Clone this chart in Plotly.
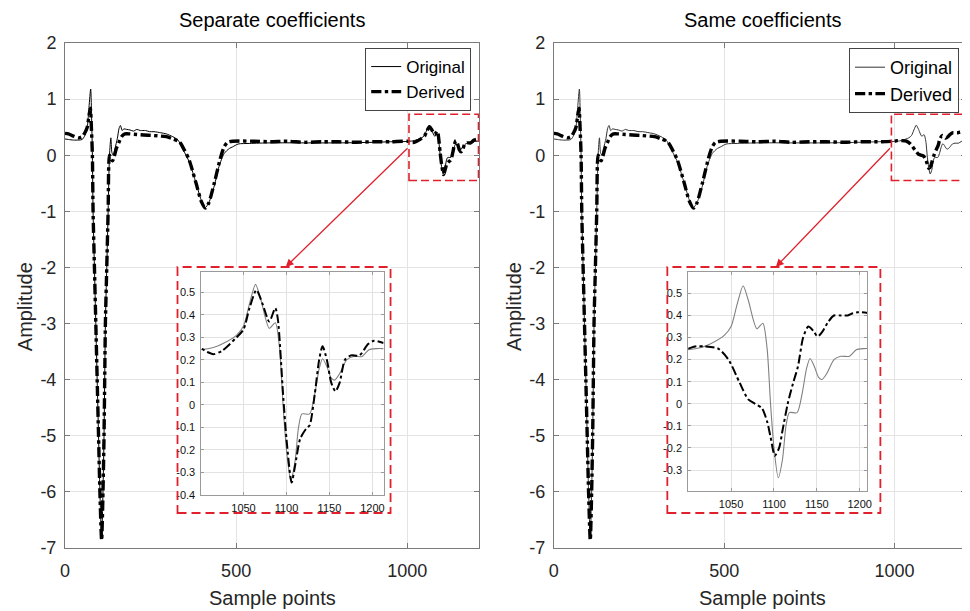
import plotly.graph_objects as go

# ---------------- data ----------------
orig_x = [0, 10, 25, 40, 50, 58, 65, 70, 75, 78, 80, 82, 86, 90, 94, 98, 102, 107,
          111, 114, 116, 118, 122, 126, 130, 134, 137, 141, 146, 153, 158, 162, 167,
          172, 180, 190, 200, 210, 220, 235, 247, 260, 280, 296, 315, 330, 345, 363,
          383, 398, 410, 420, 436, 450, 465, 480, 490, 506, 540, 600, 700, 800, 900,
          950, 1000,
          1015, 1025, 1042, 1050, 1057, 1064, 1070, 1080, 1087, 1092, 1096, 1100, 1105,
          1110, 1114, 1118, 1127, 1133, 1138, 1142, 1147, 1152, 1156, 1162, 1170, 1178,
          1188, 1196, 1205, 1213]
orig_y = [0.29, 0.28, 0.27, 0.27, 0.28, 0.35, 0.5, 0.85, 1.18, 0.6, 0.0, -1.0, -2.0,
          -3.0, -4.0, -5.0, -6.0, -6.82, -6.0, -5.0, -4.0, -3.0, -2.0, -1.0, 0.0, 0.31,
          0.05, 0.0, 0.12, 0.3, 0.48, 0.53, 0.44, 0.47, 0.46, 0.45, 0.43, 0.46, 0.44,
          0.44, 0.42, 0.42, 0.4, 0.38, 0.33, 0.27, 0.1, -0.12, -0.5, -0.8, -0.93, -0.85,
          -0.55, -0.2, 0.03, 0.12, 0.15, 0.2, 0.21, 0.22, 0.22, 0.22, 0.23, 0.24, 0.245,
          0.255, 0.27, 0.31, 0.35, 0.45, 0.535, 0.47, 0.34, 0.365, 0.25, 0.0, -0.2,
          -0.335, -0.25, -0.1, -0.04, -0.04, 0.05, 0.16, 0.205, 0.17, 0.12, 0.11, 0.14,
          0.2, 0.215, 0.215, 0.245, 0.25, 0.25]

# derived signal, common part (0 .. 1000)
deriv_head_x = [0, 10, 25, 40, 50, 58, 65, 70, 74, 77, 80, 82, 86, 90, 94, 98, 102, 107,
                111, 114, 116, 118, 122, 126, 130, 134, 139, 144, 150, 157, 165, 175, 190,
                210, 230, 260, 296, 315, 334, 348, 363, 383, 398, 410, 420, 436, 455, 465,
                475, 490, 550, 600, 650, 700, 750, 800, 850, 900, 950, 1000]
deriv_head_y = [0.39, 0.38, 0.34, 0.31, 0.33, 0.4, 0.5, 0.7, 0.84, 0.5, 0.0, -1.0, -2.0,
                -3.0, -4.0, -5.0, -6.0, -6.86, -6.0, -5.0, -4.0, -3.0, -2.0, -1.0, 0.0,
                -0.05, -0.1, -0.02, 0.12, 0.22, 0.33, 0.38, 0.38, 0.37, 0.36, 0.35, 0.33,
                0.29, 0.24, 0.1, -0.09, -0.5, -0.82, -0.94, -0.85, -0.5, -0.03, 0.15, 0.23,
                0.25, 0.25, 0.24, 0.25, 0.23, 0.24, 0.24, 0.23, 0.24, 0.24, 0.25]

# derived signal, zoomed part, "Separate coefficients"
sep_tail_x = [1008, 1015, 1025, 1042, 1050, 1057, 1065, 1072, 1080, 1087, 1090, 1096,
              1100, 1106, 1110, 1116, 1123, 1127, 1133, 1138, 1142, 1147, 1152, 1157,
              1162, 1168, 1175, 1185, 1195, 1202, 1213]
sep_tail_y = [0.235, 0.225, 0.24, 0.3, 0.335, 0.43, 0.51, 0.45, 0.37, 0.43, 0.38, 0.05,
              -0.15, -0.345, -0.27, -0.15, -0.105, -0.09, 0.05, 0.2, 0.26, 0.2, 0.1, 0.06,
              0.1, 0.2, 0.22, 0.22, 0.27, 0.285, 0.275]

# derived signal, zoomed part, "Same coefficients"
same_tail_x = [1008, 1020, 1035, 1047, 1060, 1070, 1078, 1086, 1092, 1096, 1101, 1106,
               1110, 1116, 1122, 1128, 1134, 1140, 1146, 1151, 1157, 1163, 1170, 1178,
               1186, 1192, 1198, 1213]
same_tail_y = [0.26, 0.26, 0.25, 0.2, 0.095, 0.02, 0.0, -0.02, -0.08, -0.15, -0.235,
               -0.2, -0.12, 0.0, 0.09, 0.17, 0.3, 0.35, 0.33, 0.305, 0.33, 0.37, 0.4,
               0.4, 0.4, 0.41, 0.415, 0.41]

titles = ["Separate coefficients", "Same coefficients"]
series_names = ["Original", "Derived"]
main_yticks = [-7, -6, -5, -4, -3, -2, -1, 0, 1, 2]
main_xticks = [0, 500, 1000]
inset_xticks = [1050, 1100, 1150, 1200]
inset_yticks_sep = [-0.4, -0.3, -0.2, -0.1, 0, 0.1, 0.2, 0.3, 0.4, 0.5]
inset_yticks_same = [-0.3, -0.2, -0.1, 0, 0.1, 0.2, 0.3, 0.4, 0.5]

sep_x = deriv_head_x + sep_tail_x
sep_y = deriv_head_y + sep_tail_y
same_x = deriv_head_x + same_tail_x
same_y = deriv_head_y + same_tail_y


def fmt(v):
    return "%g" % v


# ---------------- layout geometry ----------------
# The page body has an 8 px margin, so the figure is offset by 8 px.
OFF = 8
SCR_L, SCR_T, SCR_B, SCR_R = 65, 43, 548, 970   # plot area in screen pixels
W, H = 970 - OFF, 611 - OFF
ML, MT = SCR_L - OFF, SCR_T - OFF
MB = H - (SCR_B - OFF)
MR = W - (SCR_R - OFF)
PW, PH = W - ML - MR, H - MT - MB


def px(xp):  # screen px -> paper x
    return (xp - SCR_L) / PW


def py(yp):  # screen px -> paper y
    return (SCR_B - yp) / PH


RED = "#e0202c"
GRID = "#e4e4e4"
AX = "#7a7a7a"
TXT = "#262626"
FONT = "Liberation Sans, Arial, sans-serif"
SM = 0.7

fig = go.Figure()

fig.add_trace(go.Scatter(x=orig_x, y=orig_y, name=series_names[0], mode="lines",
                         line=dict(color="black", width=1, shape="spline", smoothing=SM),
                         xaxis="x", yaxis="y", legend="legend"))
fig.add_trace(go.Scatter(x=sep_x, y=sep_y, name=series_names[1], mode="lines",
                         line=dict(color="black", width=3.4, dash="dashdot",
                                   shape="spline", smoothing=SM),
                         xaxis="x", yaxis="y", legend="legend"))
fig.add_trace(go.Scatter(x=orig_x, y=orig_y, name=series_names[0], mode="lines",
                         line=dict(color="#333333", width=1, shape="spline", smoothing=SM),
                         xaxis="x2", yaxis="y2", legend="legend2"))
fig.add_trace(go.Scatter(x=same_x, y=same_y, name=series_names[1], mode="lines",
                         line=dict(color="black", width=3.4, dash="dashdot",
                                   shape="spline", smoothing=SM),
                         xaxis="x2", yaxis="y2", legend="legend2"))
# white covers behind insets
fig.add_trace(go.Scatter(x=[], y=[], xaxis="x3", yaxis="y3", showlegend=False))
fig.add_trace(go.Scatter(x=[], y=[], xaxis="x4", yaxis="y4", showlegend=False))
# insets
fig.add_trace(go.Scatter(x=orig_x, y=orig_y, mode="lines", showlegend=False,
                         line=dict(color="#808080", width=1.1, shape="spline", smoothing=SM),
                         xaxis="x5", yaxis="y5"))
fig.add_trace(go.Scatter(x=sep_x, y=sep_y, mode="lines", showlegend=False,
                         line=dict(color="black", width=2, dash="dashdot",
                                   shape="spline", smoothing=SM),
                         xaxis="x5", yaxis="y5"))
fig.add_trace(go.Scatter(x=orig_x, y=orig_y, mode="lines", showlegend=False,
                         line=dict(color="#808080", width=1.1, shape="spline", smoothing=SM),
                         xaxis="x6", yaxis="y6"))
fig.add_trace(go.Scatter(x=same_x, y=same_y, mode="lines", showlegend=False,
                         line=dict(color="black", width=2, dash="dashdot",
                                   shape="spline", smoothing=SM),
                         xaxis="x6", yaxis="y6"))

main_common = dict(showline=True, linecolor=AX, linewidth=1, mirror="ticks",
                   ticks="inside", ticklen=5, tickcolor=AX, showgrid=True,
                   gridcolor=GRID, gridwidth=1, zeroline=False,
                   tickfont=dict(family=FONT, size=18, color=TXT))

dom_left = [0, px(481)]
dom_right = [px(556), 1.0]
ydom = [0, 1]

fig.update_layout(
    xaxis=dict(domain=dom_left, range=[0, 1210], anchor="y", tickvals=main_xticks,
               ticktext=[fmt(v) for v in main_xticks], ticklabelstandoff=6, **main_common),
    yaxis=dict(domain=ydom, range=[-7, 2], anchor="x", tickvals=main_yticks,
               ticktext=[fmt(v) for v in main_yticks], ticklabelstandoff=4, **main_common),
    xaxis2=dict(domain=dom_right, range=[0, 1210], anchor="y2", tickvals=main_xticks,
                ticktext=[fmt(v) for v in main_xticks], ticklabelstandoff=6, **main_common),
    yaxis2=dict(domain=ydom, range=[-7, 2], anchor="x2", tickvals=main_yticks,
                ticktext=[fmt(v) for v in main_yticks], ticklabelstandoff=4, **main_common),
)

cover_l = [px(178), px(392)]
cover_r = [px(670), px(884)]
cover_y = [py(513), py(267)]
for i, d in [(3, cover_l), (4, cover_r)]:
    fig.update_layout(**{
        f"xaxis{i}": dict(domain=d, anchor=f"y{i}", visible=False, range=[0, 1]),
        f"yaxis{i}": dict(domain=cover_y, anchor=f"x{i}", visible=False, range=[0, 1]),
    })

inset_common = dict(showline=True, linecolor="#9a9a9a", linewidth=1, mirror="ticks",
                    ticks="inside", ticklen=3, tickcolor="#9a9a9a", showgrid=True,
                    gridcolor="#e2e2e2", gridwidth=1, zeroline=False,
                    tickfont=dict(family=FONT, size=11, color="#111111"))

fig.update_layout(
    xaxis5=dict(domain=[px(202), px(385)], anchor="y5", range=[1001, 1213],
                tickvals=inset_xticks, ticktext=[fmt(v) for v in inset_xticks],
                ticklabelstandoff=3, **inset_common),
    yaxis5=dict(domain=[py(495), py(272)], anchor="x5", range=[-0.4, 0.59],
                tickvals=inset_yticks_sep, ticktext=[fmt(v) for v in inset_yticks_sep],
                ticklabelstandoff=3, **inset_common),
    xaxis6=dict(domain=[px(691), px(871)], anchor="y6", range=[1000, 1209],
                tickvals=inset_xticks, ticktext=[fmt(v) for v in inset_xticks],
                ticklabelstandoff=3, **inset_common),
    yaxis6=dict(domain=[py(491), py(272)], anchor="x6", range=[-0.395, 0.597],
                tickvals=inset_yticks_same, ticktext=[fmt(v) for v in inset_yticks_same],
                ticklabelstandoff=3, **inset_common),
)

fig.add_shape(type="rect", xref="x", yref="y", x0=1005, x1=1208, y0=-0.45, y1=0.73,
              line=dict(color=RED, width=1.6, dash="8px,4px"), layer="above")
fig.add_shape(type="rect", xref="x2", yref="y2", x0=991, x1=1209, y0=-0.45, y1=0.73,
              line=dict(color=RED, width=1.6, dash="8px,4px"), layer="above")
for d in (cover_l, cover_r):
    fig.add_shape(type="rect", xref="paper", yref="paper", x0=d[0], x1=d[1],
                  y0=cover_y[0], y1=cover_y[1],
                  line=dict(color=RED, width=1.8, dash="9px,5px"), layer="above")

fig.add_annotation(x=645, y=-1.99, xref="x", yref="y", ax=1005, ay=0.15, axref="x",
                   ayref="y", showarrow=True, arrowhead=2, arrowsize=1.2, arrowwidth=1.3,
                   arrowcolor=RED, text="")
fig.add_annotation(x=652, y=-1.99, xref="x2", yref="y2", ax=991, ay=0.15, axref="x2",
                   ayref="y2", showarrow=True, arrowhead=2, arrowsize=1.2, arrowwidth=1.3,
                   arrowcolor=RED, text="")

for t, xc in zip(titles, [px(273), px(766)]):
    fig.add_annotation(text=t, x=xc, y=py(20), xref="paper", yref="paper",
                       showarrow=False, font=dict(family=FONT, size=20, color="black"),
                       xanchor="center", yanchor="middle")
for xc in [px(273), px(766)]:
    fig.add_annotation(text="Sample points", x=xc, y=py(598), xref="paper", yref="paper",
                       showarrow=False, font=dict(family=FONT, size=20, color=TXT),
                       xanchor="center", yanchor="middle")
for xc in [px(25), px(516)]:
    fig.add_annotation(text="Amplitude", x=xc, y=py(307), xref="paper", yref="paper",
                       showarrow=False, textangle=-90,
                       font=dict(family=FONT, size=20, color=TXT),
                       xanchor="center", yanchor="middle")

legend_common = dict(bgcolor="white", bordercolor="#444444", borderwidth=1,
                     xanchor="right", yanchor="top", itemwidth=30,
                     tracegroupgap=0)
fig.update_layout(
    legend=dict(x=px(473), y=py(48), font=dict(family=FONT, size=17, color="black"),
                **legend_common),
    legend2=dict(x=px(963), y=py(48), font=dict(family=FONT, size=18, color="black"),
                 **legend_common),
    width=W, height=H,
    margin=dict(l=ML, r=MR, t=MT, b=MB, pad=0),
    paper_bgcolor="white", plot_bgcolor="white",
    font=dict(family=FONT),
    showlegend=True,
)

fig.write_html("out.html")
